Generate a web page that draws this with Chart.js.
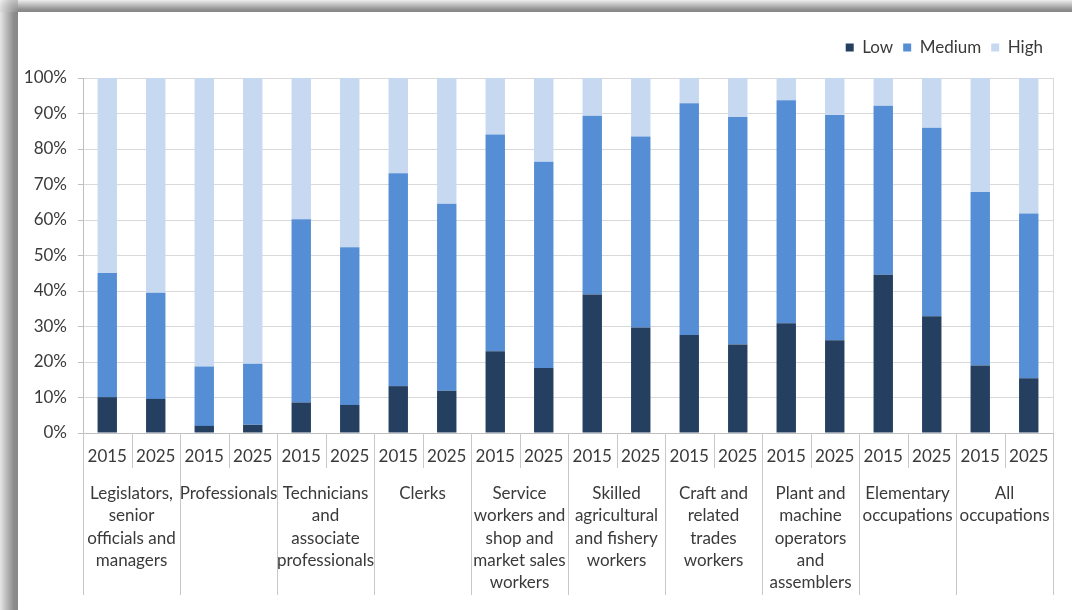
<!DOCTYPE html>
<html>
<head>
<meta charset="utf-8">
<script src="https://cdn.jsdelivr.net/npm/chart.js@4.4.1/dist/chart.umd.min.js"></script>
<style>
  html, body { margin: 0; padding: 0; background: #ffffff; }
  #wrap { position: relative; width: 1072px; height: 610px; overflow: hidden; background: #ffffff; }
  #topStrip { position: absolute; left: 0; top: 0; width: 1072px; height: 12px;
    background: linear-gradient(to bottom, #ededed 0%, #c4c4c4 35%, #8e8e8e 80%, #888888 100%); }
  #leftStrip { position: absolute; left: 0; top: 0; width: 18px; height: 610px;
    background: linear-gradient(to right, #e6e6e6 0%, #bcbcbc 35%, #8e8e8e 75%, #868686 100%); }
  #corner { position: absolute; left: 0; top: 0; width: 18px; height: 12px;
    background: radial-gradient(circle at 100% 100%, #8a8a8a 0%, #c4c4c4 60%, #eeeeee 100%); }
  canvas { position: absolute; left: 0; top: 0; }
</style>
</head>
<body>
<div id="wrap">
  <div id="topStrip"></div>
  <div id="leftStrip"></div>
  <div id="corner"></div>
  <canvas id="c" width="1072" height="610"></canvas>
</div>
<script>
// ---- Data (percent shares) ----
const years = ["2015", "2025"];
const groups = [
  ["Legislators,", "senior", "officials and", "managers"],
  ["Professionals"],
  ["Technicians", "and", "associate", "professionals"],
  ["Clerks"],
  ["Service", "workers and", "shop and", "market sales", "workers"],
  ["Skilled", "agricultural", "and fishery", "workers"],
  ["Craft and", "related", "trades", "workers"],
  ["Plant and", "machine", "operators", "and", "assemblers"],
  ["Elementary", "occupations"],
  ["All", "occupations"]
];
const lowValues    = [10.1, 9.6, 2.0, 2.3, 8.6, 7.9, 13.2, 11.9, 23.0, 18.3, 39.0, 29.7, 27.6, 24.9, 30.9, 26.1, 44.6, 32.9, 19.0, 15.4];
const mediumValues = [35.0, 29.9, 16.7, 17.2, 51.6, 44.4, 60.0, 52.7, 61.1, 58.1, 50.4, 53.8, 65.3, 64.1, 62.8, 63.5, 47.6, 53.1, 48.9, 46.4];
const highValues   = [54.9, 60.5, 81.3, 80.5, 39.8, 47.7, 26.8, 35.4, 15.9, 23.6, 10.6, 16.5, 7.1, 11.0, 6.3, 10.4, 7.8, 14.0, 32.1, 38.2];
const yTickValues  = [0, 10, 20, 30, 40, 50, 60, 70, 80, 90, 100];

// ---- Build labels ----
const xLabels = [];
groups.forEach(() => years.forEach(y => xLabels.push(y)));

const FONT = "Lato, 'Liberation Sans', sans-serif";
const TEXT = "#3a3a3a";

const legendSpacer = {
  id: 'legendSpacer',
  beforeInit(chart) {
    const lg = chart.legend;
    if (!lg) return;
    const orig = lg.fit;
    lg.fit = function () { orig.call(this); this.height = 49; };
  }
};

const separators = {
  id: 'separators',
  afterDraw(chart) {
    const x = chart.scales.x;
    const area = chart.chartArea;
    const ctx = chart.ctx;
    const n = xLabels.length;
    const half = (x.getPixelForValue(1) - x.getPixelForValue(0)) / 2;
    ctx.save();
    ctx.lineWidth = 1;
    ctx.strokeStyle = '#c9c9c9';
    for (let i = 0; i <= n; i++) {
      const raw = i < n ? x.getPixelForValue(i) - half : x.getPixelForValue(n - 1) + half;
      const px = Math.round(raw) + 0.5;
      const isGroupEdge = i % years.length === 0;
      ctx.beginPath();
      ctx.moveTo(px, area.bottom);
      ctx.lineTo(px, area.bottom + (isGroupEdge ? 162 : 35));
      ctx.stroke();
    }
    // right edge of the plot area
    ctx.strokeStyle = '#d9d9d9';
    const rx = Math.round(area.right) + 0.5;
    ctx.beginPath();
    ctx.moveTo(rx, area.top);
    ctx.lineTo(rx, area.bottom);
    ctx.stroke();
    ctx.restore();
  }
};

new Chart(document.getElementById('c'), {
  type: 'bar',
  data: {
    labels: xLabels,
    datasets: [
      { label: 'Low', data: lowValues, backgroundColor: '#243F60', borderWidth: 0 },
      { label: 'Medium', data: mediumValues, backgroundColor: '#558ED5', borderWidth: 0 },
      { label: 'High', data: highValues, backgroundColor: '#C6D9F1', borderWidth: 0 }
    ]
  },
  options: {
    responsive: false,
    animation: false,
    events: [],
    layout: { padding: { top: 29, right: 19, bottom: 10, left: 0 } },
    datasets: { bar: { categoryPercentage: 1.0, barPercentage: 0.4 } },
    plugins: {
      tooltip: { enabled: false },
      legend: {
        position: 'top',
        align: 'end',
        labels: {
          boxWidth: 8, boxHeight: 8, padding: 10,
          color: TEXT,
          font: { family: FONT, size: 17 }
        }
      }
    },
    scales: {
      x: {
        stacked: true,
        weight: 0,
        grid: { display: false, drawTicks: false },
        border: { display: true, color: '#bfbfbf' },
        ticks: {
          autoSkip: false, maxRotation: 0, minRotation: 0,
          padding: 13, color: TEXT,
          font: { family: FONT, size: 17 }
        },
        afterFit(s) { s.height = 45; }
      },
      x2: {
        type: 'category',
        position: 'bottom',
        weight: 1,
        labels: groups,
        offset: true,
        grid: { display: false, drawTicks: false },
        border: { display: false },
        ticks: {
          autoSkip: false, maxRotation: 0, minRotation: 0,
          padding: 4, color: TEXT,
          font: { family: FONT, size: 17, lineHeight: 1.32 }
        },
        afterFit(s) { s.height = 122; }
      },
      y: {
        stacked: true,
        min: 0, max: 100,
        afterBuildTicks(s) { s.ticks = yTickValues.map(v => ({ value: v })); },
        grid: { color: '#d9d9d9', tickColor: '#bfbfbf', tickLength: 5 },
        border: { display: true, color: '#bfbfbf' },
        ticks: {
          padding: 11, color: TEXT,
          font: { family: FONT, size: 17 },
          callback: v => v + '%'
        },
        afterFit(s) { s.width = 83; }
      }
    }
  },
  plugins: [legendSpacer, separators]
});
</script>
</body>
</html>
